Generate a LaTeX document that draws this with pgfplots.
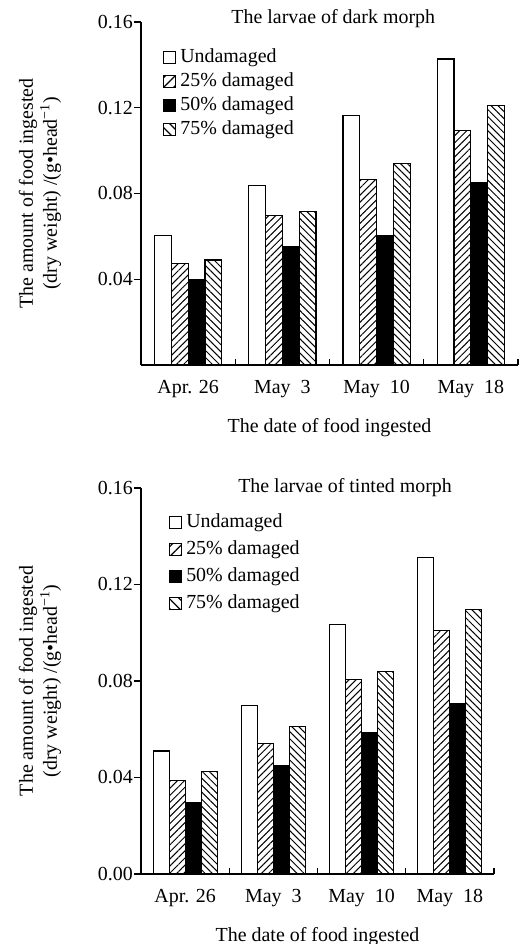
\documentclass[border=0pt]{standalone}
\usepackage{fontspec}
\setmainfont{Liberation Serif}
\usepackage{pgfplots}
\usepackage{pgfplotstable}
\pgfplotsset{compat=1.18}
\usetikzlibrary{patterns.meta}

\pgfplotstableread{
x   und    pa     pb     pc
0.5 0.0605 0.0474 0.0400 0.0490
1.5 0.0837 0.0698 0.0550 0.0716
2.5 0.1164 0.0865 0.0605 0.0941
3.5 0.1427 0.1093 0.0850 0.1211
}\darktable

\pgfplotstableread{
x   und    pa     pb     pc
0.5 0.0510 0.0388 0.0298 0.0424
1.5 0.0700 0.0542 0.0450 0.0610
2.5 0.1035 0.0807 0.0586 0.0839
3.5 0.1311 0.1009 0.0707 0.1095
}\tintedtable

\newcommand{\fs}{\fontsize{20}{24}\selectfont}

\pgfplotsset{
  mybars/.style={
    ybar=0pt,
    scale only axis,
    xmin=0, xmax=4, ymin=0, ymax=0.16,
    axis x line*=bottom, axis y line*=left,
    axis line style={line width=1.3bp,-},
    every tick/.style={line width=1.3bp, black},
    tick align=outside,
    xtick={0.5,1.5,2.5,3.5},
    xticklabels={Apr. 26, May~~3, May~~10, May~~18},
    major x tick style={draw=none},
    minor xtick={1,2,3,4},
    minor tick length=-6bp,
    major tick length=7bp,
    every axis title shift=0pt,
    scaled y ticks=false,
    /pgf/number format/assume math mode=true,
    yticklabel style={/pgf/number format/fixed, /pgf/number format/fixed zerofill, /pgf/number format/precision=2, inner sep=1bp},
    tick label style={font=\fs},
    xticklabel style={anchor=center, yshift=-17.5bp},
    label style={font=\fs},
    title style={font=\fs, anchor=center, inner sep=0pt},
    ylabel style={align=center, anchor=center},
    xlabel style={anchor=center},
    legend style={font=\fs, draw=none, fill=none, anchor=north west, legend cell align=left,
      column sep=3bp,
      nodes={inner sep=1bp, text height=14bp, text depth=4bp}},
    xlabel={The date of food ingested},
    ylabel={The amount of food ingested\\(dry weight) /(g\textbullet head\textsuperscript{−1})},
  },
  undst/.style={draw=black, line width=1.2bp, fill=white,
    legend image code/.code={\draw[line width=1bp, fill=white] (0bp,-6bp) rectangle (12bp,6bp);}},
  past/.style={draw=black, line width=1.2bp, pattern={Lines[angle=45,distance=5bp,line width=1bp]},
    legend image code/.code={\draw[line width=1bp, pattern={Lines[angle=45,distance=7bp,line width=1.3bp]}] (0bp,-6bp) rectangle (12bp,6bp);}},
  pbst/.style={draw=black, line width=1.2bp, fill=black,
    legend image code/.code={\draw[line width=1bp, fill=black] (0bp,-6bp) rectangle (12bp,6bp);}},
  pcst/.style={draw=black, line width=1.2bp, pattern={Lines[angle=-45,distance=5bp,line width=1bp]},
    legend image code/.code={\draw[line width=1bp, pattern={Lines[angle=-45,distance=7bp,line width=1.3bp]}] (0bp,-6bp) rectangle (12bp,6bp);}},
}

\begin{document}
\begin{tikzpicture}
\path[use as bounding box] (0bp,0bp) rectangle (519bp,944bp);

\begin{axis}[mybars,
  at={(141bp,579bp)}, anchor=south west,
  width=377bp, height=343bp,
  bar width=16.8bp,
  ytick={0.04,0.08,0.12,0.16},
  title={The larvae of dark morph},
  title style={at={(axis description cs:0.51,1.010)}},
  xlabel style={at={(axis description cs:0.5,-0.184)}},
  ylabel style={at={(axis description cs:-0.268,0.5)}},
  legend style={at={(axis description cs:0.050,0.933)}, row sep=4.2bp},
]
\addplot[undst] table[x=x,y=und]{\darktable};
\addplot[past] table[x=x,y=pa]{\darktable};
\addplot[pbst] table[x=x,y=pb]{\darktable};
\addplot[pcst] table[x=x,y=pc]{\darktable};
\legend{Undamaged,25\% damaged,50\% damaged,75\% damaged}
\end{axis}

\begin{axis}[mybars,
  at={(141bp,70bp)}, anchor=south west,
  width=353bp, height=386bp,
  bar width=16bp,
  ytick={0,0.04,0.08,0.12,0.16},
  title={The larvae of tinted\ morph},
  title style={at={(axis description cs:0.578,1.001)}},
  xlabel style={at={(axis description cs:0.5,-0.161)}},
  ylabel style={at={(axis description cs:-0.286,0.5)}},
  legend style={at={(axis description cs:0.071,0.943)}, row sep=7bp},
]
\addplot[undst] table[x=x,y=und]{\tintedtable};
\addplot[past] table[x=x,y=pa]{\tintedtable};
\addplot[pbst] table[x=x,y=pb]{\tintedtable};
\addplot[pcst] table[x=x,y=pc]{\tintedtable};
\legend{Undamaged,25\% damaged,50\% damaged,75\% damaged}
\end{axis}
\end{tikzpicture}
\end{document}
